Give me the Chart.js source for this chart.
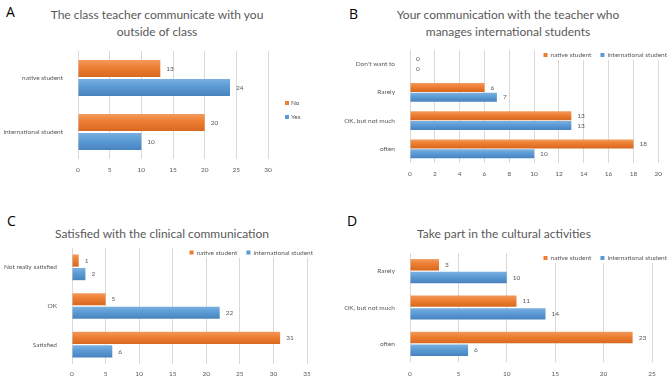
<!DOCTYPE html>
<html><head><meta charset="utf-8">
<script src="https://cdn.jsdelivr.net/npm/chart.js@4"></script>
<style>
html,body{margin:0;padding:0;background:#fff;width:669px;height:389px;overflow:hidden;position:relative;}
canvas{position:absolute;left:0;top:0;}
.t{position:absolute;font-family:Lato,sans-serif;color:#595959;font-size:12px;line-height:17px;text-align:center;white-space:nowrap;transform:translateX(-50%);}
.l{position:absolute;font-family:'Open Sans',sans-serif;color:#000;font-size:14px;line-height:14px;}
</style></head><body>
<div class="l" style="left:6px;top:5px">A</div>
<div class="l" style="left:349px;top:7px">B</div>
<div class="l" style="left:7px;top:214px">C</div>
<div class="l" style="left:347px;top:214px">D</div>
<div class="t" style="left:157px;top:6px">The class teacher communicate with you<br>outside of class</div>
<div class="t" style="left:508px;top:6px">Your communication with the teacher who<br>manages international students</div>
<div class="t" style="left:162px;top:225px">Satisfied with the clinical communication</div>
<div class="t" style="left:504px;top:225px">Take part in the cultural activities</div>
<canvas id="cA" width="669" height="389"></canvas>
<canvas id="cB" width="669" height="389"></canvas>
<canvas id="cC" width="669" height="389"></canvas>
<canvas id="cD" width="669" height="389"></canvas>
<script>
// ---- data ----
const categoriesA = ['native student', 'international student'];
const noA = [13, 20];
const yesA = [24, 10];

const categoriesB = ["Don't want to", 'Rarely', 'OK, but not much', 'often'];
const nativeB = [0, 6, 13, 18];
const internationalB = [0, 7, 13, 10];

const categoriesC = ['Not really satisfied', 'OK', 'Satisfied'];
const nativeC = [1, 5, 31];
const internationalC = [2, 22, 6];

const categoriesD = ['Rarely', 'OK, but not much', 'often'];
const nativeD = [3, 11, 23];
const internationalD = [10, 14, 6];

const ORANGE = { base: '#ED7D31', top: '#F39A5C', bottom: '#D8681F' };
const BLUE = { base: '#5B9BD5', top: '#7AB0E0', bottom: '#4883BE' };
const TXT = '#595959';
const FS = 6.5;
const W = 669, H = 389, XH = 20;

function barFill(col) {
  return (c) => {
    const el = c.element;
    if (!el || el.y == null || !isFinite(el.y) || !el.height) return col.base;
    const h = el.height;
    const g = c.chart.ctx.createLinearGradient(0, el.y - h / 2, 0, el.y + h / 2);
    g.addColorStop(0, col.top);
    g.addColorStop(0.45, col.base);
    g.addColorStop(1, col.bottom);
    return g;
  };
}

const valueLabels = {
  id: 'valueLabels',
  afterDatasetsDraw(chart) {
    const ctx = chart.ctx;
    ctx.save();
    ctx.font = FS + 'px Lato';
    ctx.fillStyle = TXT;
    ctx.textBaseline = 'middle';
    ctx.textAlign = 'left';
    chart.data.datasets.forEach((ds, i) => {
      chart.getDatasetMeta(i).data.forEach((el, j) => {
        ctx.fillText(String(ds.data[j]), el.x + 6, el.y);
      });
    });
    ctx.restore();
  }
};

const boxLegend = {
  id: 'boxLegend',
  afterDatasetsDraw(chart, args, opts) {
    const ctx = chart.ctx;
    ctx.save();
    ctx.font = FS + 'px Lato';
    ctx.textBaseline = 'middle';
    ctx.textAlign = 'left';
    const items = chart.data.datasets.map(d => ({ text: d.label, color: d.legendColor }));
    if (opts.vertical) {
      items.forEach((it, i) => {
        const y = opts.y + i * opts.gap;
        ctx.fillStyle = it.color;
        ctx.fillRect(opts.x, y - 2, 4, 4);
        ctx.fillStyle = TXT;
        ctx.fillText(it.text, opts.x + 6, y);
      });
    } else {
      const widths = items.map(it => 4 + 3 + ctx.measureText(it.text).width);
      const total = widths.reduce((a, b) => a + b, 0) + (items.length - 1) * 9;
      let x = opts.right - total;
      const top = chart.chartArea.top;
      ctx.fillStyle = '#fff';
      ctx.fillRect(x - 2, top - 1, total + 4, opts.y + 6 - top);
      items.forEach((it, i) => {
        ctx.fillStyle = it.color;
        ctx.fillRect(x, opts.y - 2, 4, 4);
        ctx.fillStyle = TXT;
        ctx.fillText(it.text, x + 7, opts.y);
        x += widths[i] + 9;
      });
    }
    ctx.restore();
  }
};

function makeChart(id, labels, sets, max, step, area, legendOpts) {
  const yw = area.yw;
  const chart = new Chart(document.getElementById(id), {
    type: 'bar',
    data: {
      labels: labels,
      datasets: sets.map(s => ({
        label: s.label, data: s.data, backgroundColor: barFill(s.color), legendColor: s.color.base,
        borderWidth: 0, categoryPercentage: 0.7, barPercentage: 0.9
      }))
    },
    options: {
      indexAxis: 'y',
      responsive: false,
      animation: false,
      layout: { padding: { left: area.left - yw, right: W - area.right, top: area.top, bottom: H - area.bottom - XH } },
      scales: {
        x: {
          min: 0, max: max,
          ticks: { stepSize: step, color: TXT, font: { family: 'Lato', size: FS }, padding: area.tp },
          grid: { color: '#d9d9d9', drawTicks: false },
          border: { display: false },
          afterFit(s) { s.height = XH; }
        },
        y: {
          ticks: { color: TXT, font: { family: 'Lato', size: FS }, padding: 7 },
          grid: { display: false },
          border: { display: false },
          afterFit(s) { s.width = yw; }
        }
      },
      plugins: { legend: { display: false }, tooltip: { enabled: false }, boxLegend: legendOpts }
    },
    plugins: [valueLabels, boxLegend]
  });
  chart.update('none');
}

makeChart('cA', categoriesA,
  [{ label: 'No', data: noA, color: ORANGE }, { label: 'Yes', data: yesA, color: BLUE }],
  30, 5, { left: 78, right: 268, top: 51, bottom: 159, tp: 7, yw: 78 },
  { vertical: true, x: 285, y: 103, gap: 14 });

makeChart('cB', categoriesB,
  [{ label: 'native student', data: nativeB, color: ORANGE }, { label: 'international student', data: internationalB, color: BLUE }],
  20, 2, { left: 410, right: 660, top: 50, bottom: 163, tp: 7, yw: 80 },
  { vertical: false, right: 667, y: 55 });

makeChart('cC', categoriesC,
  [{ label: 'native student', data: nativeC, color: ORANGE }, { label: 'international student', data: internationalC, color: BLUE }],
  35, 5, { left: 72, right: 307, top: 248, bottom: 364, tp: 6, yw: 72 },
  { vertical: false, right: 313, y: 252.5 });

makeChart('cD', categoriesD,
  [{ label: 'native student', data: nativeD, color: ORANGE }, { label: 'international student', data: internationalD, color: BLUE }],
  25, 5, { left: 410, right: 652, top: 253, bottom: 362, tp: 8, yw: 80 },
  { vertical: false, right: 667, y: 258 });
</script>
</body></html>
